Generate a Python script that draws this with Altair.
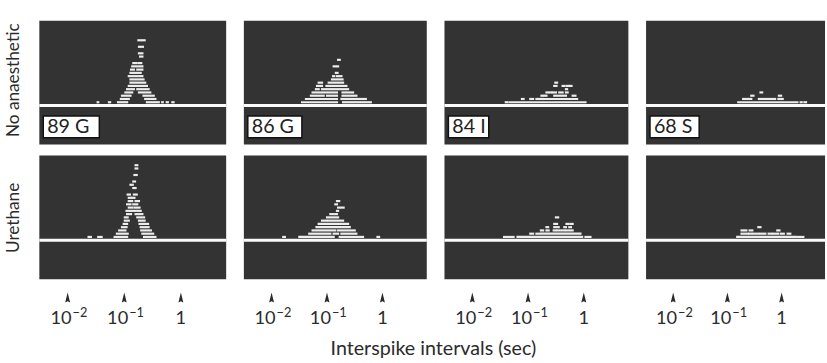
import altair as alt
import pandas as pd

# Interspike-interval histograms, displayed as rows of dots above a baseline.
# Each entry: (row above baseline, log10 interval start, log10 interval end)
NONE_89G = [
    (1, -1.47, -1.46), (1, -1.27, -1.25), (1, -1.11, -0.95), (1, -0.60, -0.39),
    (1, -0.33, -0.32), (1, -0.25, -0.23), (1, -0.15, -0.13),
    (2, -1.06, -0.92), (2, -0.63, -0.45),
    (3, -1.04, -0.89), (3, -0.66, -0.48),
    (4, -0.98, -0.86), (4, -0.74, -0.54),
    (5, -0.95, -0.83), (5, -0.77, -0.57),
    (6, -0.92, -0.60), (7, -0.89, -0.63), (8, -0.89, -0.66), (9, -0.92, -0.68),
    (10, -0.89, -0.71),
    (11, -0.88, -0.83), (11, -0.77, -0.68),
    (12, -0.86, -0.68),
    (13, -0.84, -0.78), (13, -0.74, -0.70),
    (15, -0.72, -0.68), (16, -0.74, -0.68), (18, -0.74, -0.67),
    (20, -0.75, -0.71), (20, -0.68, -0.64),
]
NONE_86G = [
    (1, -1.45, -0.82), (1, -0.71, -0.21),
    (2, -1.38, -0.82), (2, -0.74, -0.30),
    (3, -1.29, -1.06), (3, -1.00, -0.82), (3, -0.72, -0.47),
    (4, -1.26, -0.82), (4, -0.72, -0.53),
    (5, -1.20, -1.15), (5, -1.09, -0.91), (5, -0.88, -0.62),
    (6, -1.18, -1.09), (6, -1.01, -0.65),
    (7, -1.15, -1.09), (7, -0.97, -0.71),
    (8, -0.91, -0.72),
    (9, -0.89, -0.87), (9, -0.82, -0.74),
    (10, -0.84, -0.81),
    (12, -0.88, -0.85), (12, -0.82, -0.80),
    (14, -0.80, -0.77),
]
NONE_84I = [
    (1, -1.40, -1.37), (1, -1.33, 0.03),
    (2, -1.11, -1.08), (2, -0.96, -0.91), (2, -0.85, -0.73), (2, -0.70, -0.12),
    (3, -0.76, -0.73), (3, -0.70, -0.67), (3, -0.53, -0.32), (3, -0.20, -0.15),
    (4, -0.67, -0.64), (4, -0.61, -0.58), (4, -0.56, -0.50), (4, -0.44, -0.38),
    (4, -0.32, -0.29),
    (5, -0.32, -0.30),
    (6, -0.53, -0.49), (6, -0.38, -0.35), (6, -0.31, -0.27), (6, -0.25, -0.22),
    (7, -0.51, -0.48),
]
NONE_68S = [
    (1, -0.80, 0.29), (1, 0.35, 0.37), (1, 0.42, 0.45),
    (2, -0.71, -0.62), (2, -0.59, -0.56), (2, -0.42, -0.36), (2, -0.33, -0.12),
    (2, -0.06, 0.02),
    (3, -0.56, -0.52), (3, -0.05, -0.01),
    (4, -0.39, -0.36),
]
URE_89G = [
    (1, -1.63, -1.59), (1, -1.46, -1.40), (1, -1.17, -0.95), (1, -0.65, -0.45),
    (2, -1.13, -0.94), (2, -0.68, -0.49),
    (3, -1.09, -0.98), (3, -0.70, -0.53),
    (4, -1.04, -0.96), (4, -0.71, -0.57),
    (5, -1.01, -0.95), (5, -0.73, -0.58),
    (6, -0.99, -0.92), (6, -0.74, -0.64),
    (7, -0.99, -0.94), (7, -0.77, -0.65),
    (8, -0.95, -0.88), (8, -0.80, -0.68),
    (9, -0.96, -0.80), (9, -0.77, -0.71),
    (10, -0.92, -0.86), (10, -0.82, -0.73),
    (11, -0.95, -0.89), (11, -0.84, -0.77),
    (12, -0.92, -0.86), (12, -0.80, -0.74),
    (13, -0.92, -0.88), (13, -0.86, -0.82),
    (14, -0.94, -0.90), (14, -0.83, -0.78),
    (16, -0.84, -0.80), (17, -0.89, -0.85), (18, -0.84, -0.81),
    (20, -0.82, -0.78), (22, -0.80, -0.77), (23, -0.80, -0.77),
]
URE_86G = [
    (1, -1.79, -1.76), (1, -1.50, -0.88), (1, -0.77, -0.42), (1, -0.39, -0.35),
    (1, -0.09, -0.06),
    (2, -1.32, -0.94), (2, -0.88, -0.80), (2, -0.74, -0.47),
    (3, -1.26, -0.85), (3, -0.80, -0.50),
    (4, -1.19, -0.59), (5, -1.15, -0.62),
    (6, -1.09, -1.00), (6, -0.97, -0.71),
    (7, -1.00, -0.80),
    (8, -0.94, -0.88), (8, -0.85, -0.82),
    (9, -0.82, -0.80),
    (10, -0.80, -0.77), (10, -0.74, -0.70),
    (11, -0.85, -0.82), (12, -0.82, -0.78),
]
URE_84I = [
    (1, -1.43, -1.26), (1, -1.19, -0.03), (1, 0.03, 0.06), (1, 0.09, 0.12),
    (2, -0.96, -0.91), (2, -0.85, -0.79), (2, -0.76, -0.06),
    (3, -0.77, -0.73), (3, -0.67, -0.63), (3, -0.54, -0.50), (3, -0.47, -0.35),
    (3, -0.32, -0.20),
    (4, -0.67, -0.64), (4, -0.53, -0.45), (4, -0.35, -0.32), (4, -0.26, -0.23),
    (5, -0.53, -0.48), (5, -0.31, -0.27), (5, -0.23, -0.20),
    (7, -0.50, -0.46),
]
URE_68S = [
    (1, -0.82, 0.26), (1, 0.29, 0.32), (1, 0.35, 0.40),
    (2, -0.74, -0.62), (2, -0.60, -0.56), (2, -0.53, -0.42), (2, -0.39, -0.30),
    (2, -0.24, -0.18), (2, -0.15, -0.06), (2, -0.01, 0.04), (2, 0.11, 0.16),
    (3, -0.74, -0.71), (3, -0.68, -0.65), (3, -0.59, -0.54), (3, -0.08, -0.04),
    (4, -0.43, -0.39),
]

UNITS = ["89 G", "86 G", "84 I", "68 S"]
ROW_LABELS = ["No anaesthetic", "Urethane"]
TICK_POS = [-2, -1, 0]
TICK_BASE = ["10", "10", "1"]
TICK_EXP = ["\u22122", "\u22121", ""]
X_TITLE = "Interspike intervals (sec)"

# layout / styling
COL_WIDTHS = [190, 186, 187, 182]
BOX_WIDTHS = [57, 55, 41, 50]
PANEL_H = 126
FONT = "Lato"
INK = "#2b2b2b"
PANEL_FILL = "#333333"
TRACE = "#ededed"

x_scale = alt.Scale(domain=[-2.5, 0.8], nice=False, zero=False)
y_scale = alt.Scale(domain=[-12, 26], nice=False, zero=False)


def panel(segs, width, unit=None, box_w=None, row_title=None, title_y=None):
    if row_title is not None:
        y_axis = alt.Axis(title=row_title, labels=False, ticks=False, domain=False,
                          grid=False, titleFont=FONT, titleFontSize=17.5,
                          titleFontWeight="normal", titleColor=INK,
                          titlePadding=17, titleY=title_y)
    else:
        y_axis = None
    df = pd.DataFrame(segs, columns=["row", "lo", "hi"])
    dashes = alt.Chart(df).mark_rule(
        color=TRACE, strokeWidth=2.2, strokeCap="square"
    ).encode(
        x=alt.X("lo:Q", scale=x_scale, axis=None),
        x2="hi:Q",
        y=alt.Y("row:Q", scale=y_scale, axis=y_axis),
    )
    baseline = alt.Chart(pd.DataFrame({"row": [0]})).mark_rule(
        color="#fafafa", strokeWidth=3
    ).encode(y=alt.Y("row:Q", scale=y_scale, axis=y_axis))
    layers = [dashes, baseline]
    if unit is not None:
        lab = pd.DataFrame({"unit": [unit]})
        box = alt.Chart(lab).mark_rect(
            fill="white", stroke="#111", strokeWidth=1.5
        ).encode(x=alt.value(4), x2=alt.value(4 + box_w),
                 y=alt.value(97), y2=alt.value(119))
        txt = alt.Chart(lab).mark_text(
            font=FONT, fontSize=20, color="#222", align="left", baseline="middle"
        ).encode(text="unit:N", x=alt.value(8), y=alt.value(108.5))
        layers += [box, txt]
    return alt.layer(*layers).properties(
        width=width, height=PANEL_H,
        view=alt.ViewBackground(fill=PANEL_FILL, stroke=None),
    )


def tick_row(width):
    td = pd.DataFrame({"pos": TICK_POS, "base": TICK_BASE, "exp": TICK_EXP})
    x = alt.X("pos:Q", scale=x_scale, axis=None)
    arrows = alt.Chart(td).mark_point(
        shape="M0,-1L0.5,1L0,0.75L-0.5,1Z", filled=True, size=100,
        color="#2b2b2b", opacity=1
    ).encode(x=x, y=alt.value(7.5))
    tens = alt.Chart(td).transform_filter("datum.exp != ''").mark_text(
        font=FONT, fontSize=18.5, color=INK, align="right", baseline="middle", dx=4
    ).encode(x=x, y=alt.value(28.5), text="base:N")
    exps = alt.Chart(td).transform_filter("datum.exp != ''").mark_text(
        font=FONT, fontSize=13, color=INK, align="left", baseline="middle", dx=5
    ).encode(x=x, y=alt.value(23), text="exp:N")
    ones = alt.Chart(td).transform_filter("datum.exp == ''").mark_text(
        font=FONT, fontSize=18.5, color=INK, align="center", baseline="middle"
    ).encode(x=x, y=alt.value(28.5), text="base:N")
    return alt.layer(arrows, tens, exps, ones).properties(width=width, height=40)


top_sets = [NONE_89G, NONE_86G, NONE_84I, NONE_68S]
bottom_sets = [URE_89G, URE_86G, URE_84I, URE_68S]

columns = []
for i in range(4):
    first = i == 0
    top = panel(top_sets[i], COL_WIDTHS[i], unit=UNITS[i], box_w=BOX_WIDTHS[i],
                row_title=ROW_LABELS[0] if first else None, title_y=60)
    bottom = panel(bottom_sets[i], COL_WIDTHS[i],
                   row_title=ROW_LABELS[1] if first else None, title_y=63)
    columns.append(alt.vconcat(top, bottom, tick_row(COL_WIDTHS[i]), spacing=11))

chart = alt.hconcat(*columns, spacing=14).properties(
    title=alt.TitleParams(X_TITLE, orient="bottom", anchor="middle", font=FONT,
                          fontSize=20, fontWeight="normal", color=INK,
                          offset=10, dx=18),
    padding={"left": 5, "top": 18, "right": 0, "bottom": 0},
    background="white",
).configure_view(stroke=None)

chart.save("out.html", embed_options={"renderer": "svg", "actions": False})
